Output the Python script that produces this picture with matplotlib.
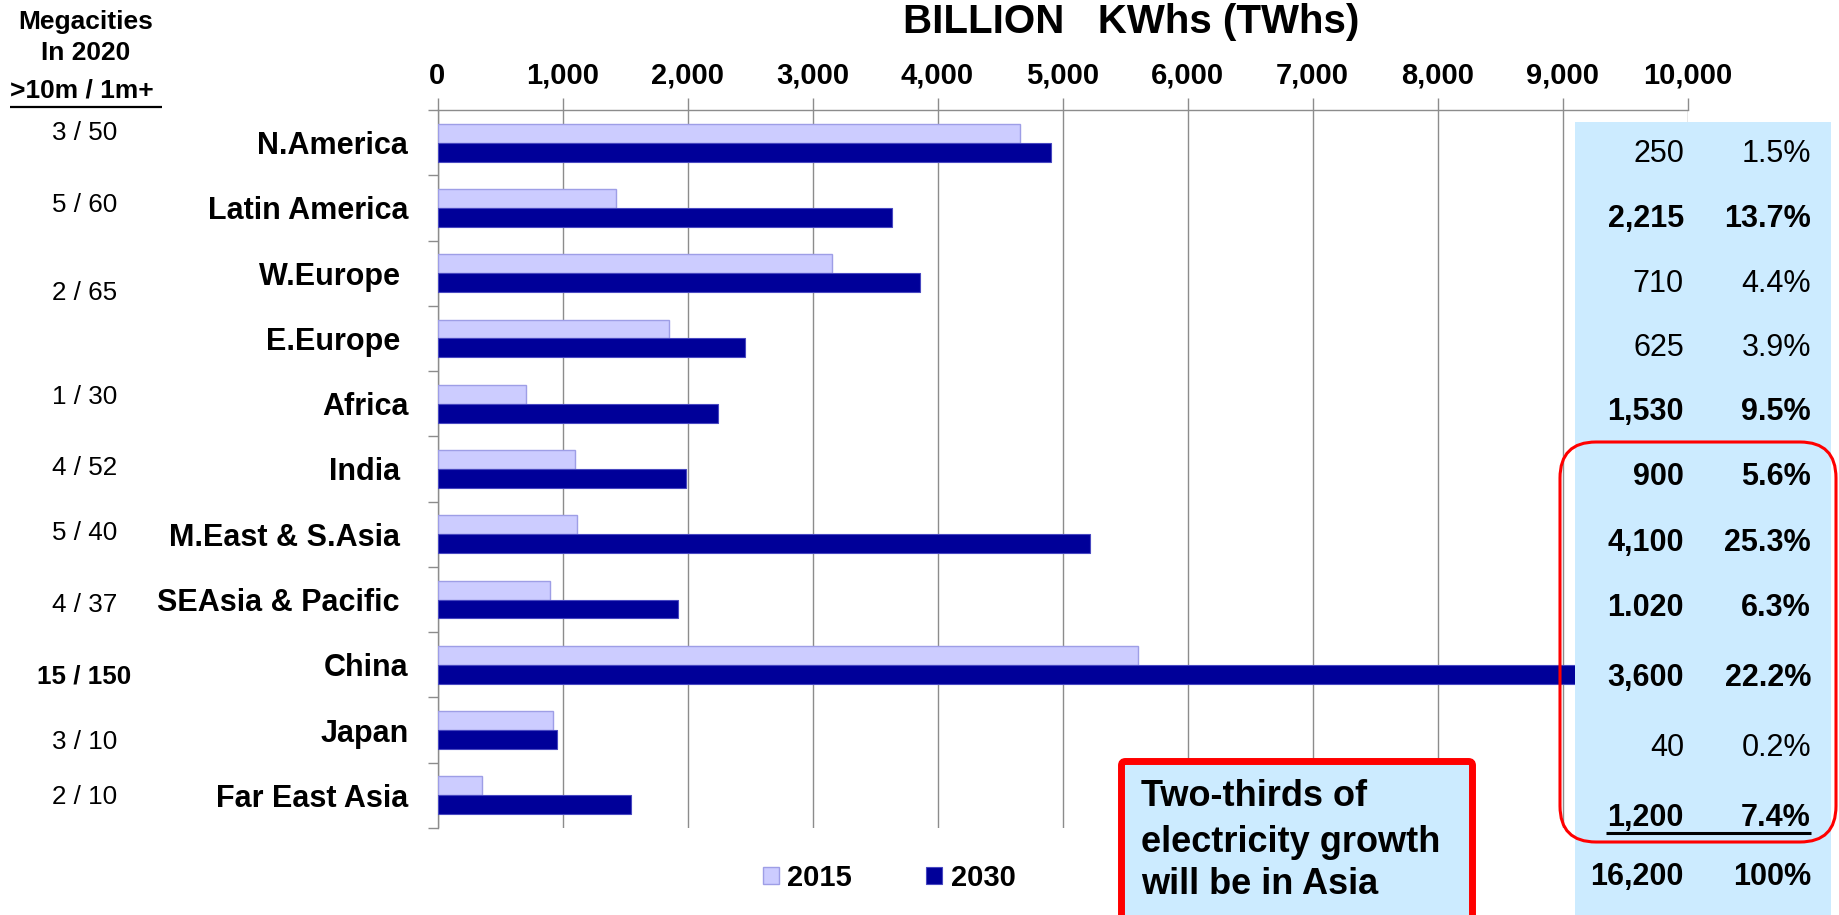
import matplotlib
matplotlib.use("Agg")
import matplotlib.pyplot as plt
from matplotlib.patches import Rectangle, FancyBboxPatch
from matplotlib.ticker import FuncFormatter, FixedLocator

plt.rcParams["font.family"] = ["Liberation Sans", "DejaVu Sans"]

# ---- data -------------------------------------------------------------
regions = ["N.America", "Latin America", "W.Europe ", "E.Europe ", "Africa",
           "India ", "M.East & S.Asia ", "SEAsia & Pacific ", "China",
           "Japan", "Far East Asia"]
twh_2015 = [4657, 1425, 3154, 1854, 711, 1097, 1114, 897, 5600, 922, 352]
twh_2030 = [4907, 3639, 3857, 2461, 2246, 1989, 5221, 1921, 9200, 955, 1545]

growth_labels = ["250", "2,215", "710", "625", "1,530", "900", "4,100",
                 "1.020", "3,600", "40", "1,200"]
share_labels = ["1.5%", "13.7%", "4.4%", "3.9%", "9.5%", "5.6%", "25.3%",
                "6.3%", "22.2%", "0.2%", "7.4%"]
total_labels = ["16,200", "100%"]

megacity_labels = ["3 / 50", "5 / 60", "2 / 65", "1 / 30", "4 / 52",
                   "5 / 40", "4 / 37", "15 / 150", "3 / 10", "2 / 10"]
megacity_header = ["Megacities", "In 2020", ">10m / 1m+ "]

x_ticks = [0, 1000, 2000, 3000, 4000, 5000, 6000, 7000, 8000, 9000, 10000]

title = "BILLION   KWhs (TWhs)"
callout_lines = ["Two-thirds of", "electricity growth", "will be in Asia"]
legend_labels = ["2015", "2030"]

# ---- layout / style ---------------------------------------------------
W, H = 1839, 915
growth_bold = [False, True, False, False, True, True, True, True, True, False, True]
megacity_bold = [False] * 7 + [True] + [False] * 2
table_y = [154, 219, 284, 348, 412, 477, 543, 608, 678, 748, 818]
megacity_y = [133, 205, 293, 397, 468, 533, 605, 677, 742, 797]
callout_y = [797, 842, 884]

C_LIGHT = "#CCCCFF"
C_LIGHT_EDGE = "#9E9EE6"
C_DARK = "#000099"
C_DARK_EDGE = "#4848C0"
C_PANEL = "#CCEBFF"
C_GRID = "#8C8C8C"
RED = "#FF0000"

fig = plt.figure(figsize=(W / 100, H / 100), dpi=100)
fig.patch.set_facecolor("white")

ax_left, ax_right, ax_top, ax_bottom = 437.5, 1687.5, 110, 828
ax = fig.add_axes([ax_left / W, 1 - ax_bottom / H,
                   (ax_right - ax_left) / W, (ax_bottom - ax_top) / H])

n = len(regions)
pos = list(range(n))
bh = 0.29
ax.barh([p - bh / 2 for p in pos], twh_2015, height=bh, color=C_LIGHT,
        edgecolor=C_LIGHT_EDGE, linewidth=1.0, zorder=3, label=legend_labels[0])
ax.barh([p + bh / 2 for p in pos], twh_2030, height=bh, color=C_DARK,
        edgecolor=C_DARK_EDGE, linewidth=0.8, zorder=3, label=legend_labels[1])

ax.set_xlim(0, 10000)
ax.set_ylim(n - 0.5, -0.5)

ax.xaxis.tick_top()
ax.xaxis.set_major_locator(FixedLocator(x_ticks))
ax.xaxis.set_major_formatter(FuncFormatter(lambda v, _: f"{int(v):,}"))
ax.tick_params(axis="x", which="major", direction="out", length=8.5, width=1.0,
               color=C_GRID, labelsize=21, pad=6)
for lbl in ax.get_xticklabels():
    lbl.set_fontweight("bold")

ax.set_yticks(pos)
ax.set_yticklabels(regions, fontsize=22, fontweight="bold")
ax.yaxis.set_minor_locator(FixedLocator([p - 0.5 for p in range(n + 1)]))
ax.tick_params(axis="y", which="major", length=0, pad=21)
ax.tick_params(axis="y", which="minor", direction="out", length=7, width=1.0,
               color=C_GRID)

ax.grid(axis="x", color=C_GRID, linewidth=1.0, zorder=0)
ax.set_axisbelow(True)
for side in ("right", "bottom"):
    ax.spines[side].set_visible(False)
for side in ("top", "left"):
    ax.spines[side].set_color(C_GRID)
    ax.spines[side].set_linewidth(1.0)

# legend under the bars
handles, labels = ax.get_legend_handles_labels()
fig.legend(handles, labels, loc="center left",
           bbox_to_anchor=(763 / W, 1 - 878 / H), ncol=2, frameon=False,
           prop={"size": 21, "weight": "bold"}, handlelength=0.55,
           handleheight=0.55, handletextpad=0.28, columnspacing=2.55,
           borderpad=0, borderaxespad=0)

# ---- overlay in pixel coordinates ------------------------------------
ov = fig.add_axes([0, 0, 1, 1], zorder=ax.get_zorder() + 1)
ov.set_xlim(0, W)
ov.set_ylim(H, 0)
ov.axis("off")
ov.patch.set_visible(False)

ov.text(1131, 22, title, ha="center", va="center", fontsize=29,
        fontweight="bold")

# megacity column
ov.text(86, 22, megacity_header[0], ha="center", va="center", fontsize=19,
        fontweight="bold")
ov.text(86, 53, megacity_header[1], ha="center", va="center", fontsize=19,
        fontweight="bold")
ov.text(10, 90, megacity_header[2], ha="left", va="center", fontsize=19,
        fontweight="bold")
ov.plot([10, 162], [107, 107], color="black", lw=1.6, solid_capstyle="butt")
for lab, y, b in zip(megacity_labels, megacity_y, megacity_bold):
    ov.text(84.5, y, lab, ha="center", va="center", fontsize=18.7,
            fontweight="bold" if b else "normal")

# growth / share panel
ov.add_patch(Rectangle((1575, 122), 1831 - 1575, H - 122 + 5,
                       facecolor=C_PANEL, edgecolor="none", zorder=1))
for g, s, y, b in zip(growth_labels, share_labels, table_y, growth_bold):
    w = "bold" if b else "normal"
    ov.text(1684, y, g, ha="right", va="center", fontsize=22, fontweight=w, zorder=3)
    ov.text(1811, y, s, ha="right", va="center", fontsize=22, fontweight=w, zorder=3)
ov.plot([1606, 1811], [833, 833], color="black", lw=2.2,
        solid_capstyle="butt", zorder=3)
ov.text(1684, 877, total_labels[0], ha="right", va="center", fontsize=22,
        fontweight="bold", zorder=3)
ov.text(1811, 877, total_labels[1], ha="right", va="center", fontsize=22,
        fontweight="bold", zorder=3)

# rounded outline around the Asian rows
ov.add_patch(FancyBboxPatch((1560, 442), 1836 - 1560, 842 - 442,
                            boxstyle="round,pad=0,rounding_size=36",
                            facecolor="none", edgecolor=RED, lw=2.2, zorder=4))

# call-out box
ov.add_patch(FancyBboxPatch((1121.5, 761.5), 1472.5 - 1121.5, 200,
                            boxstyle="round,pad=0,rounding_size=4",
                            facecolor=C_PANEL, edgecolor=RED, lw=5, zorder=4))
for line, y in zip(callout_lines, callout_y):
    ov.text(1141, y, line, ha="left", va="center", fontsize=26,
            fontweight="bold", zorder=5)

fig.savefig("out.png", dpi=100)
